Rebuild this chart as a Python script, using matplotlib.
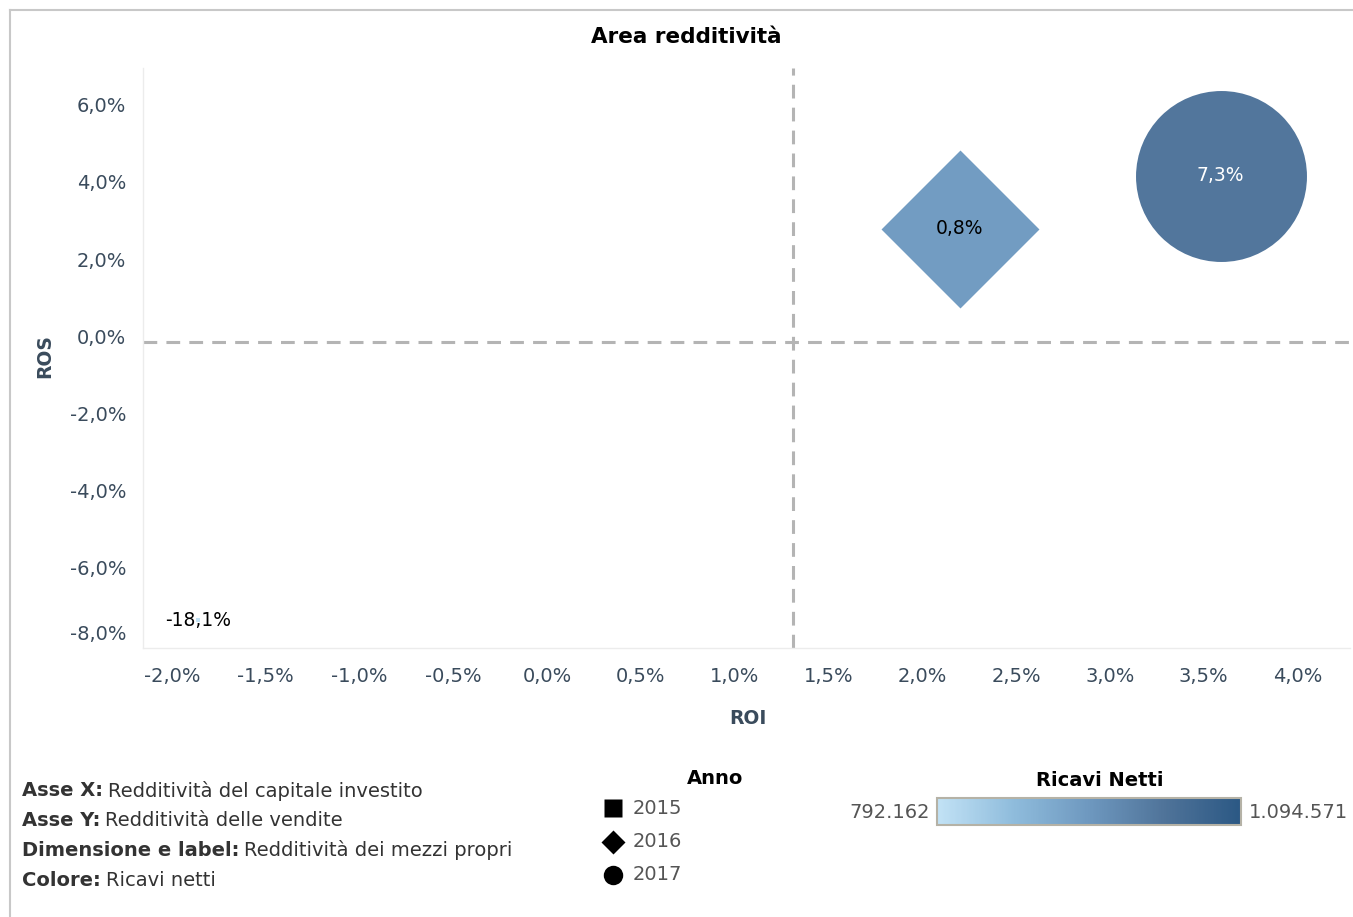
import numpy as np
import matplotlib
matplotlib.use("Agg")
import matplotlib.pyplot as plt
import matplotlib as mpl
from matplotlib.colors import LinearSegmentedColormap, Normalize
from matplotlib.ticker import FuncFormatter, MultipleLocator
from matplotlib.lines import Line2D

plt.rcParams['font.family'] = ['DejaVu Sans']

# data
anni = ["2015", "2016", "2017"]
roi = [-1.86, 2.20, 3.59]          # Redditività del capitale investito (%)
ros = [-7.38, 2.78, 4.16]          # Redditività delle vendite (%)
roe = [-18.1, 0.8, 7.3]            # Redditività dei mezzi propri (%)
ricavi = [792162, 935000, 1012000] # Ricavi netti
ricavi_range = [792162, 1094571]

# styling
shapes = ["s", "D", "o"]
marker_area = [5, 6467, 15150]
label_colors = ["black", "black", "white"]
axis_col = "#3a4b5c"
cmap = LinearSegmentedColormap.from_list(
    "tab_blue", ["#c2e2f5", "#8fbcdc", "#6e98bf", "#4f7399", "#2b5884"])
norm = Normalize(vmin=ricavi_range[0], vmax=ricavi_range[1])

W, H = 1353, 917
fig = plt.figure(figsize=(W / 100, H / 100), dpi=100)

# outer frame (top and left edges)
frame = dict(transform=fig.transFigure, color="#c8c8c8", lw=1.5)
fig.add_artist(Line2D([10 / W, 1], [1 - 10 / H, 1 - 10 / H], **frame))
fig.add_artist(Line2D([10 / W, 10 / W], [1 - 10 / H, 0], **frame))

ax = fig.add_axes([143 / W, 1 - 648 / H, (1350 - 143) / W, (648 - 68) / H])
ax.set_xlim(-2.155, 4.28)
ax.set_ylim(-8.1, 6.96)

# average reference lines
ax.axvline(np.mean(roi), color="#b4b4b4", lw=2.2, ls=(0, (4.5, 3)), zorder=1)
ax.axhline(np.mean(ros), color="#b4b4b4", lw=2.2, ls=(0, (4.5, 3)), zorder=1)

for i in range(len(anni)):
    ax.scatter(roi[i], ros[i], s=marker_area[i], marker=shapes[i],
               color=cmap(norm(ricavi[i])), linewidths=0, zorder=3)
    ax.text(roi[i], ros[i], f"{roe[i]:.1f}%".replace(".", ","), ha="center", va="center",
            fontsize=13.5, color=label_colors[i], zorder=4)

fmt = FuncFormatter(lambda v, p: f"{v:.1f}%".replace(".", ","))
ax.xaxis.set_major_locator(MultipleLocator(0.5))
ax.yaxis.set_major_locator(MultipleLocator(2))
ax.xaxis.set_major_formatter(fmt)
ax.yaxis.set_major_formatter(fmt)
ax.tick_params(axis="both", length=0, labelsize=14, labelcolor=axis_col)
ax.tick_params(axis="x", pad=14)
ax.tick_params(axis="y", pad=12)
for side in ["top", "right"]:
    ax.spines[side].set_visible(False)
for side in ["left", "bottom"]:
    ax.spines[side].set_color("#ececec")
    ax.spines[side].set_linewidth(1)

fig.text(686 / W, 1 - 37 / H, "Area redditività", ha="center", va="center",
         fontsize=15.5, fontweight="bold", color="black")

# overlay for axis titles, notes and legends in pixel coordinates
ov = fig.add_axes([0, 0, 1, 1], zorder=-1)
ov.set_xlim(0, W)
ov.set_ylim(H, 0)
ov.axis("off")

ov.text(748, 718, "ROI", ha="center", va="center", fontsize=13.5, fontweight="bold", color=axis_col)
ov.text(45, 356, "ROS", ha="center", va="center", rotation=90, fontsize=13.5,
        fontweight="bold", color=axis_col)

notes = [("Asse X:", "Redditività del capitale investito"),
         ("Asse Y:", "Redditività delle vendite"),
         ("Dimensione e label:", "Redditività dei mezzi propri"),
         ("Colore:", "Ricavi netti")]
fig.canvas.draw()
r = fig.canvas.get_renderer()
inv = ov.transData.inverted()
for k, (b, t) in enumerate(notes):
    y = 791 + k * 29.7
    tb = ov.text(22, y, b, fontsize=14, fontweight="bold", color="#333333", va="center")
    ext = tb.get_window_extent(renderer=r)
    x_end = inv.transform((ext.x1, ext.y0))[0]
    ov.text(x_end + 5, y, t, fontsize=14, color="#333333", va="center")

# lowest y tick label sits above the tick, as in the original
fig.canvas.draw()
for lab in ax.get_yticklabels():
    if lab.get_text() == "-8,0%":
        lab.set_va("bottom")

# Anno legend
ov.text(715, 778, "Anno", ha="center", va="center", fontsize=14, fontweight="bold", color="black")
leg_sizes = [13, 12, 14]
for k, a in enumerate(anni):
    y = 808 + k * 33.5
    ov.plot(613, y, marker=shapes[k], ms=leg_sizes[k], color="black", mec="none")
    ov.text(633, y, a, fontsize=14, color="#555555", va="center")

# Ricavi Netti colour legend
ov.text(1100, 781, "Ricavi Netti", ha="center", va="center", fontsize=14,
        fontweight="bold", color="black")
cax = fig.add_axes([937 / W, 1 - 825 / H, (1241 - 937) / W, (825 - 798) / H])
cb = mpl.colorbar.ColorbarBase(cax, cmap=cmap, norm=norm, orientation="horizontal")
cb.set_ticks([])
cb.outline.set_edgecolor("#b5b2a6")
cb.outline.set_linewidth(1.5)
ov.text(930, 813, f"{ricavi_range[0]:,}".replace(",", "."), ha="right", va="center",
        fontsize=14, color="#555555")
ov.text(1249, 813, f"{ricavi_range[1]:,}".replace(",", "."), ha="left", va="center",
        fontsize=14, color="#555555")

fig.savefig("out.png", dpi=100)
